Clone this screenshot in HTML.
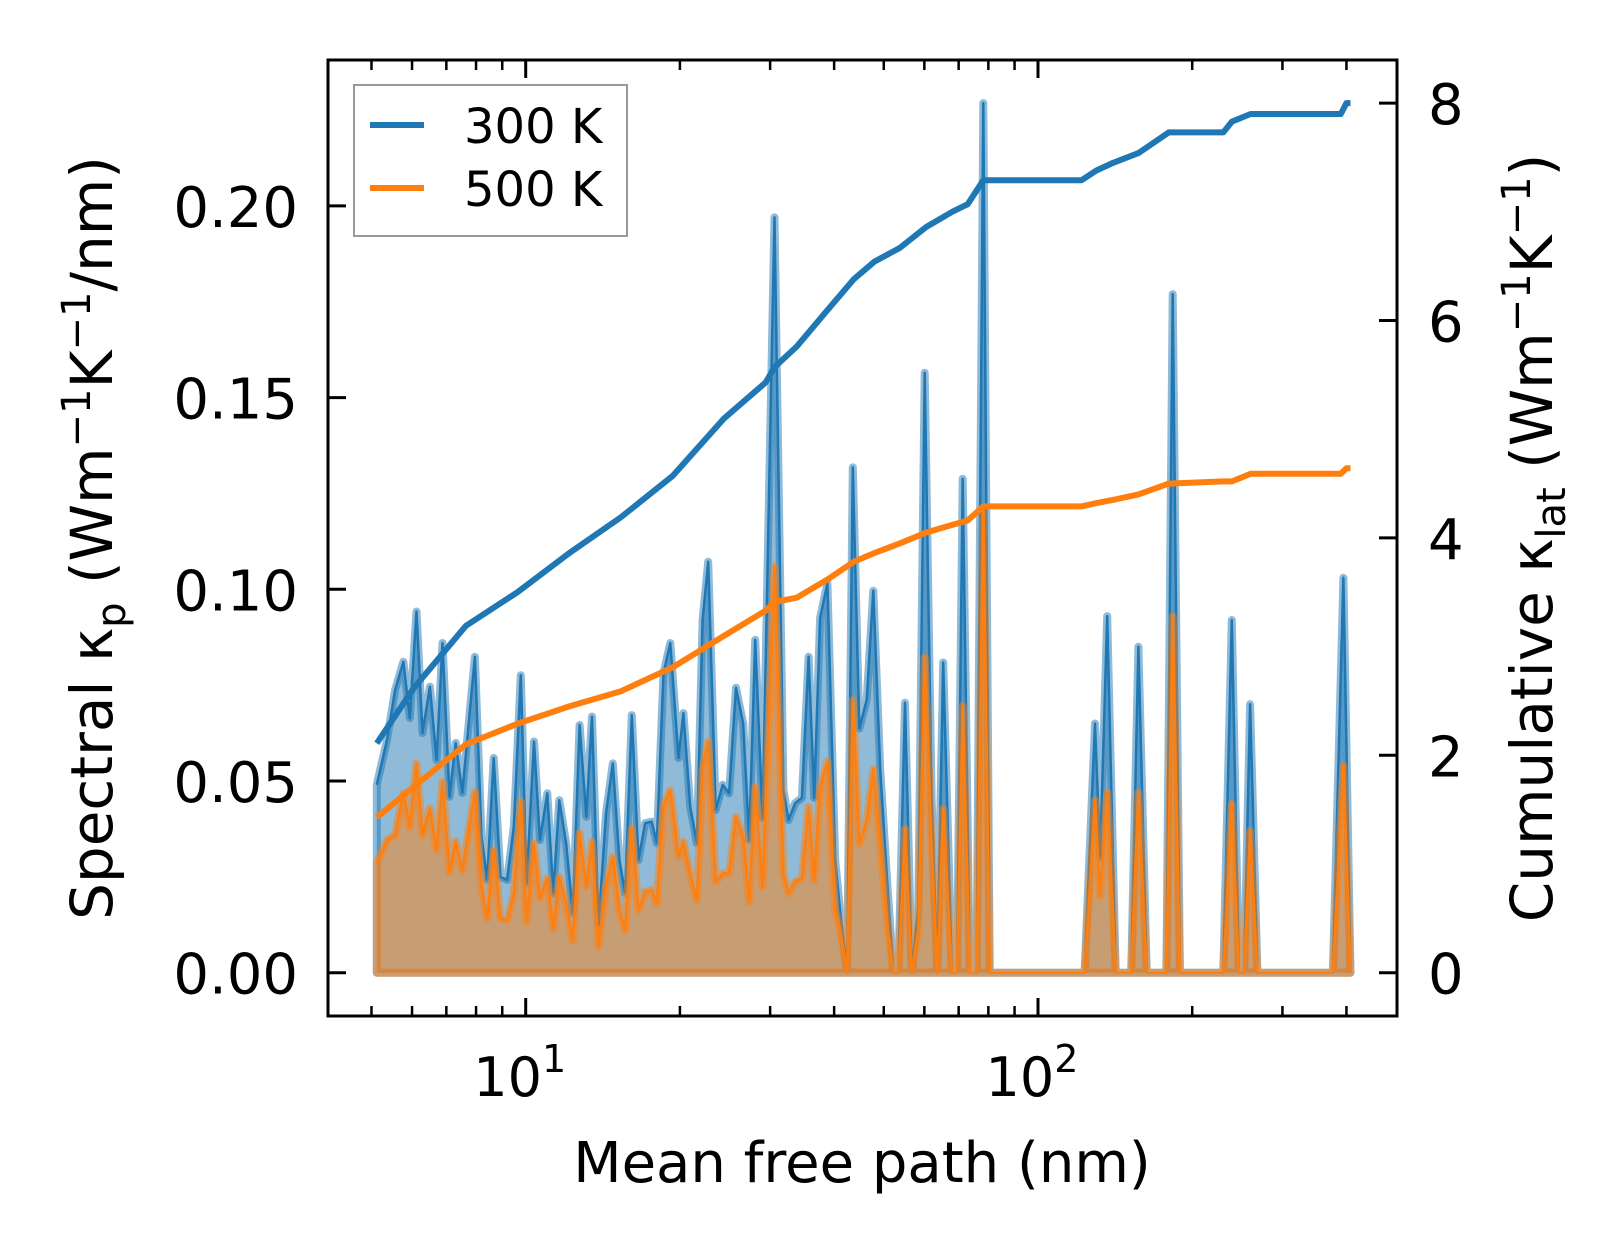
<!DOCTYPE html>
<html><head><meta charset="utf-8"><style>
html,body{margin:0;padding:0;background:#fff;}
svg{display:block;font-family:"DejaVu Sans","Liberation Sans",sans-serif;}
</style></head><body>
<svg id="chart" width="1623" height="1254" viewBox="0 0 1623 1254" xmlns="http://www.w3.org/2000/svg">
<defs><clipPath id="pc"><rect x="328" y="60" width="1069" height="956"/></clipPath></defs>
<g id="plot" clip-path="url(#pc)"></g>
<rect x="328" y="60" width="1069" height="956" fill="none" stroke="#000" stroke-width="3"/>
<g id="ticks"></g>
<text x="862" y="1182" font-size="56" text-anchor="middle">Mean free path (nm)</text>
<text transform="translate(112,538) rotate(-90)" font-size="58" text-anchor="middle">Spectral κ<tspan font-size="40" dy="13">p</tspan><tspan dy="-13"> (Wm</tspan><tspan font-size="40" dy="-22">−1</tspan><tspan dy="22">K</tspan><tspan font-size="40" dy="-22">−1</tspan><tspan dy="22">/nm)</tspan></text>
<text transform="translate(1552,538) rotate(-90)" font-size="58" text-anchor="middle">Cumulative κ<tspan font-size="40" dy="13">lat</tspan><tspan dy="-13"> (Wm</tspan><tspan font-size="40" dy="-22">−1</tspan><tspan dy="22">K</tspan><tspan font-size="40" dy="-22">−1</tspan><tspan dy="22">)</tspan></text>
<g>
<rect x="354" y="85" width="273" height="151" fill="#fff" fill-opacity="0.8" stroke="#999" stroke-width="2"/>
<line x1="370" y1="125" x2="424" y2="125" stroke="#1f77b4" stroke-width="6"/>
<text x="464" y="143" font-size="48">300 K</text>
<line x1="370" y1="188" x2="424" y2="188" stroke="#ff7f0e" stroke-width="6"/>
<text x="464" y="206" font-size="48">500 K</text>
</g>
<script>
const mfp = [5.12,5.36,5.56,5.77,5.94,6.12,6.29,6.50,6.70,6.88,7.10,7.30,7.52,7.96,8.20,8.41,8.66,8.93,9.20,9.48,9.78,10.04,10.38,10.66,11.02,11.32,11.63,11.99,12.36,12.74,13.13,13.47,13.87,14.35,14.79,15.24,15.63,16.11,16.60,17.10,17.62,18.03,18.58,19.15,19.87,20.32,20.95,21.59,22.15,22.71,23.49,24.24,24.95,25.73,26.58,27.31,28.05,29.0,30.6,31.84,32.58,33.57,34.6,35.66,36.57,37.55,38.8,40.2,41.1,42.4,43.5,44.8,46.3,47.7,49.2,50.8,52.2,53.4,55.0,56.7,58.4,60.1,62.0,63.6,65.3,67.9,69.5,71.3,73.6,75.9,78.2,80.5,123.3,129.2,132.2,136.5,141.8,152.0,157.0,163.0,178.1,183.2,189.2,230.0,238.9,246.7,252.5,259.4,268.1,376.4,394.5,407.4];
const spec300 = [0.049,0.0607,0.0737,0.0811,0.0664,0.0942,0.0625,0.0746,0.0555,0.086,0.0459,0.0599,0.0469,0.0824,0.0355,0.0242,0.056,0.025,0.0242,0.038,0.0776,0.0234,0.0603,0.0346,0.0468,0.0207,0.045,0.0338,0.0156,0.0646,0.0407,0.0668,0.0124,0.0417,0.0546,0.0294,0.0208,0.0672,0.0294,0.039,0.0394,0.0338,0.0781,0.086,0.056,0.0677,0.0433,0.0338,0.092,0.1072,0.0424,0.049,0.0468,0.0743,0.065,0.0346,0.0868,0.0403,0.197,0.0477,0.0398,0.0442,0.0456,0.0824,0.0456,0.0925,0.1016,0.0294,0.0158,0,0.1318,0.0637,0.0711,0.0996,0.0531,0.0232,0,0,0.0704,0,0.0172,0.1565,0.0457,0,0.0809,0,0,0.1288,0,0,0.2268,0,0,0.065,0.03,0.093,0,0,0.085,0,0,0.177,0,0,0.092,0,0,0.070,0,0,0.103,0];
const spec500 = [0.0285,0.0346,0.0359,0.0468,0.038,0.0546,0.0359,0.0429,0.032,0.0498,0.0263,0.0342,0.0268,0.0472,0.0224,0.0142,0.032,0.0142,0.0137,0.0207,0.0446,0.0133,0.0338,0.0194,0.0246,0.0116,0.025,0.0181,0.0085,0.0364,0.0224,0.0342,0.0068,0.0229,0.0303,0.0164,0.0111,0.0377,0.0164,0.0211,0.0216,0.0181,0.0437,0.0476,0.0303,0.0342,0.0255,0.019,0.0533,0.0603,0.0237,0.0259,0.0259,0.0407,0.0355,0.0185,0.0485,0.0224,0.106,0.0259,0.0207,0.0237,0.0246,0.0433,0.0242,0.0485,0.055,0.0164,0.0113,0,0.0711,0.0337,0.0397,0.0531,0.0338,0.0128,0,0,0.0375,0,0.0113,0.0823,0.0337,0,0.0427,0,0,0.0696,0,0,0.1213,0,0,0.045,0.02,0.047,0,0,0.047,0,0,0.093,0,0,0.044,0,0,0.037,0,0,0.054,0];
const cumMfp = [5.12,6.05,7.64,9.63,12.16,15.35,19.36,24.4,29.4,30.6,33.8,38.9,43.7,47.9,53.8,60.5,68.0,72.9,78.2,121.6,130,140,157,180,230,239,260,390,400,407.4];
const cum300 = [2.11,2.62,3.19,3.50,3.86,4.19,4.57,5.10,5.43,5.57,5.76,6.10,6.38,6.54,6.67,6.86,7.00,7.07,7.29,7.29,7.38,7.45,7.54,7.73,7.73,7.83,7.90,7.90,8.0,8.0];
const cum500 = [1.43,1.71,2.10,2.29,2.45,2.59,2.81,3.10,3.33,3.41,3.45,3.62,3.78,3.86,3.95,4.05,4.12,4.16,4.29,4.29,4.32,4.35,4.40,4.50,4.52,4.52,4.59,4.59,4.64,4.64];
const leftTicks = [0,0.05,0.10,0.15,0.20];
const leftTickLabels = ["0.00","0.05","0.10","0.15","0.20"];
const rightTicks = [0,2,4,6,8];
const rightTickLabels = ["0","2","4","6","8"];
const xMajor = [10,100];
const xMinor = [5,6,7,8,9,20,30,40,50,60,70,80,90,200,300,400,500];

const NS='http://www.w3.org/2000/svg';
const xs = m => 525.7 + 512.3*(Math.log10(m)-1);
const yl = v => 972.7 - 3834*v;
const yr = v => 972.7 - 108.7*v;
function mk(tag, attrs, parent){const e=document.createElementNS(NS,tag);for(const k in attrs)e.setAttribute(k,attrs[k]);parent.appendChild(e);return e;}
const plot=document.getElementById('plot');
const ticks=document.getElementById('ticks');

function spectral(vals,color,name){
  let pts=mfp.map((m,i)=>xs(m).toFixed(1)+','+yl(vals[i]).toFixed(1));
  let d='M'+xs(mfp[0]).toFixed(1)+','+yl(0)+' L'+pts.join(' L')+' L'+xs(mfp[mfp.length-1]).toFixed(1)+','+yl(0)+' Z';
  const f=mk('path',{d:d,fill:color,'fill-opacity':0.5,stroke:color,'stroke-opacity':0.5,'stroke-width':8,'stroke-linejoin':'round'},plot);
  
  
  const l=mk('polyline',{points:pts.join(' '),fill:'none',stroke:color,'stroke-width':2.5,'stroke-linejoin':'round'},plot);
  
  
}
spectral(spec300,'#1f77b4','spectral-300k');
spectral(spec500,'#ff7f0e','spectral-500k');
function cum(vals,color,name){
  const pts=cumMfp.map((m,i)=>xs(m).toFixed(1)+','+yr(vals[i]).toFixed(1)).join(' ');
  const l=mk('polyline',{points:pts,fill:'none',stroke:color,'stroke-width':6,'stroke-linejoin':'round'},plot);
  
  
}
cum(cum300,'#1f77b4','cumulative-300k');
cum(cum500,'#ff7f0e','cumulative-500k');

leftTicks.forEach((v,i)=>{
  const y=yl(v);
  const t=mk('line',{x1:328,x2:346,y1:y,y2:y,stroke:'#000','stroke-width':3},ticks);
  
  
  const tx=mk('text',{x:298,y:y+21,'font-size':56,'text-anchor':'end'},ticks);
  tx.textContent=leftTickLabels[i];
  
  
});
rightTicks.forEach((v,i)=>{
  const y=yr(v);
  const t=mk('line',{x1:1379,x2:1397,y1:y,y2:y,stroke:'#000','stroke-width':3},ticks);
  
  
  const tx=mk('text',{x:1428,y:y+21,'font-size':56},ticks);
  tx.textContent=rightTickLabels[i];
  
  
});
xMajor.forEach(m=>{
  const x=xs(m);
  [[1016,998],[60,78]].forEach(p=>{
    const t=mk('line',{x1:x,x2:x,y1:p[0],y2:p[1],stroke:'#000','stroke-width':3},ticks);
    
    
  });
  const tx=mk('text',{x:x-6,y:1096,'font-size':54,'text-anchor':'middle'},ticks);
  tx.textContent='10';
  const sp=mk('tspan',{'font-size':38,dy:-24},tx);
  sp.textContent=String(Math.round(Math.log10(m)));
  
  
});
xMinor.forEach(m=>{
  const x=xs(m);
  if(x<329||x>1396) return;
  [[1016,1006],[60,70]].forEach(p=>{
    const t=mk('line',{x1:x,x2:x,y1:p[0],y2:p[1],stroke:'#000','stroke-width':2.5},ticks);
    
    
  });
});
</script>
</svg>
</body></html>
